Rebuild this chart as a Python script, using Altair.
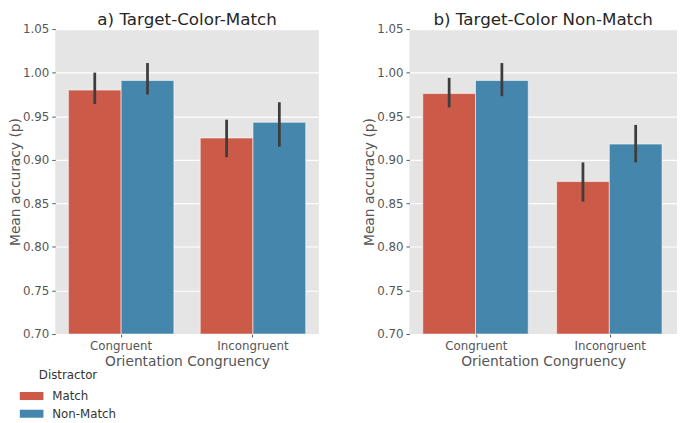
import altair as alt
import pandas as pd

congruency = ["Congruent", "Congruent", "Incongruent", "Incongruent"]
distractor = ["Match", "Non-Match", "Match", "Non-Match"]

a_mean = [0.980, 0.991, 0.925, 0.943]
a_lo = [0.964, 0.975, 0.903, 0.915]
a_hi = [1.000, 1.011, 0.946, 0.966]

b_mean = [0.976, 0.991, 0.875, 0.918]
b_lo = [0.960, 0.973, 0.852, 0.897]
b_hi = [0.994, 1.011, 0.897, 0.940]

titles = ["a) Target-Color-Match", "b) Target-Color Non-Match"]
colors = ["#CC5A49", "#4586AC"]
y_ticks = [0.70, 0.75, 0.80, 0.85, 0.90, 0.95, 1.00, 1.05]

FONT = "DejaVu Sans"
H = 310
GRAY = "#555555"


def panel(title, mean, lo, hi, width, show_legend):
    df = pd.DataFrame({"Congruency": congruency, "Distractor": distractor,
                       "mean": mean, "lo": lo, "hi": hi})
    x = alt.X("Congruency:N", title="Orientation Congruency",
              scale=alt.Scale(paddingInner=0.2, paddingOuter=0.1),
              axis=alt.Axis(labelAngle=0, labelFontSize=12, labelColor=GRAY,
                            titleFontSize=14, titleColor=GRAY, titleFontWeight="normal",
                            tickColor=GRAY, tickSize=3, labelPadding=4,
                            titlePadding=3, domain=False, grid=False))
    y = alt.Y("mean:Q", title="Mean accuracy (p)",
              scale=alt.Scale(domain=[0.70, 1.05], zero=False, nice=False),
              axis=alt.Axis(values=y_ticks, format=".2f", labelFontSize=12,
                            labelColor=GRAY, titleFontSize=14, titleColor=GRAY,
                            titleFontWeight="normal", tickColor=GRAY, tickSize=3.5,
                            labelPadding=3, titlePadding=0, domain=False,
                            gridColor="white", gridWidth=1.2))
    legend = alt.Legend(orient="none", legendX=-36, legendY=H + 37, title="Distractor",
                        titleFontSize=12, titleFontWeight="normal", titleColor="#333333",
                        titleAnchor="middle", labelFontSize=12, labelColor="#333333",
                        symbolType="M-1,-0.34H1V0.34H-1Z", symbolSize=576,
                        symbolStrokeWidth=0, rowPadding=0, labelOffset=9,
                        titlePadding=2) if show_legend else None
    color = alt.Color("Distractor:N",
                      scale=alt.Scale(domain=["Match", "Non-Match"], range=colors),
                      legend=legend)
    bars = alt.Chart(df).mark_bar(stroke="white", strokeWidth=0.8, strokeOpacity=0.7).encode(
        x=x, xOffset=alt.XOffset("Distractor:N", scale=alt.Scale(paddingInner=0, paddingOuter=0)),
        y=y, y2=alt.datum(0.70), color=color)
    err = alt.Chart(df).mark_rule(color="#3d3d3d", strokeWidth=2.8).encode(
        x=alt.X("Congruency:N"), xOffset="Distractor:N",
        y="lo:Q", y2="hi:Q")
    return alt.layer(bars, err).properties(
        width=width, height=H,
        title=alt.TitleParams(title, fontSize=17, fontWeight="normal", color="#262626",
                              font=FONT, anchor="middle", offset=-6))


left = panel(titles[0], a_mean, a_lo, a_hi, 268, True)
right = panel(titles[1], b_mean, b_lo, b_hi, 272, False)

chart = alt.hconcat(left, right, spacing=44).resolve_legend(color="independent").configure(
    font=FONT, padding={"left": 0, "top": 0, "right": 0, "bottom": 0}
).configure_view(fill="#E5E5E5", stroke=None)

chart.save("out.html", embed_options={"renderer": "svg", "actions": False})
